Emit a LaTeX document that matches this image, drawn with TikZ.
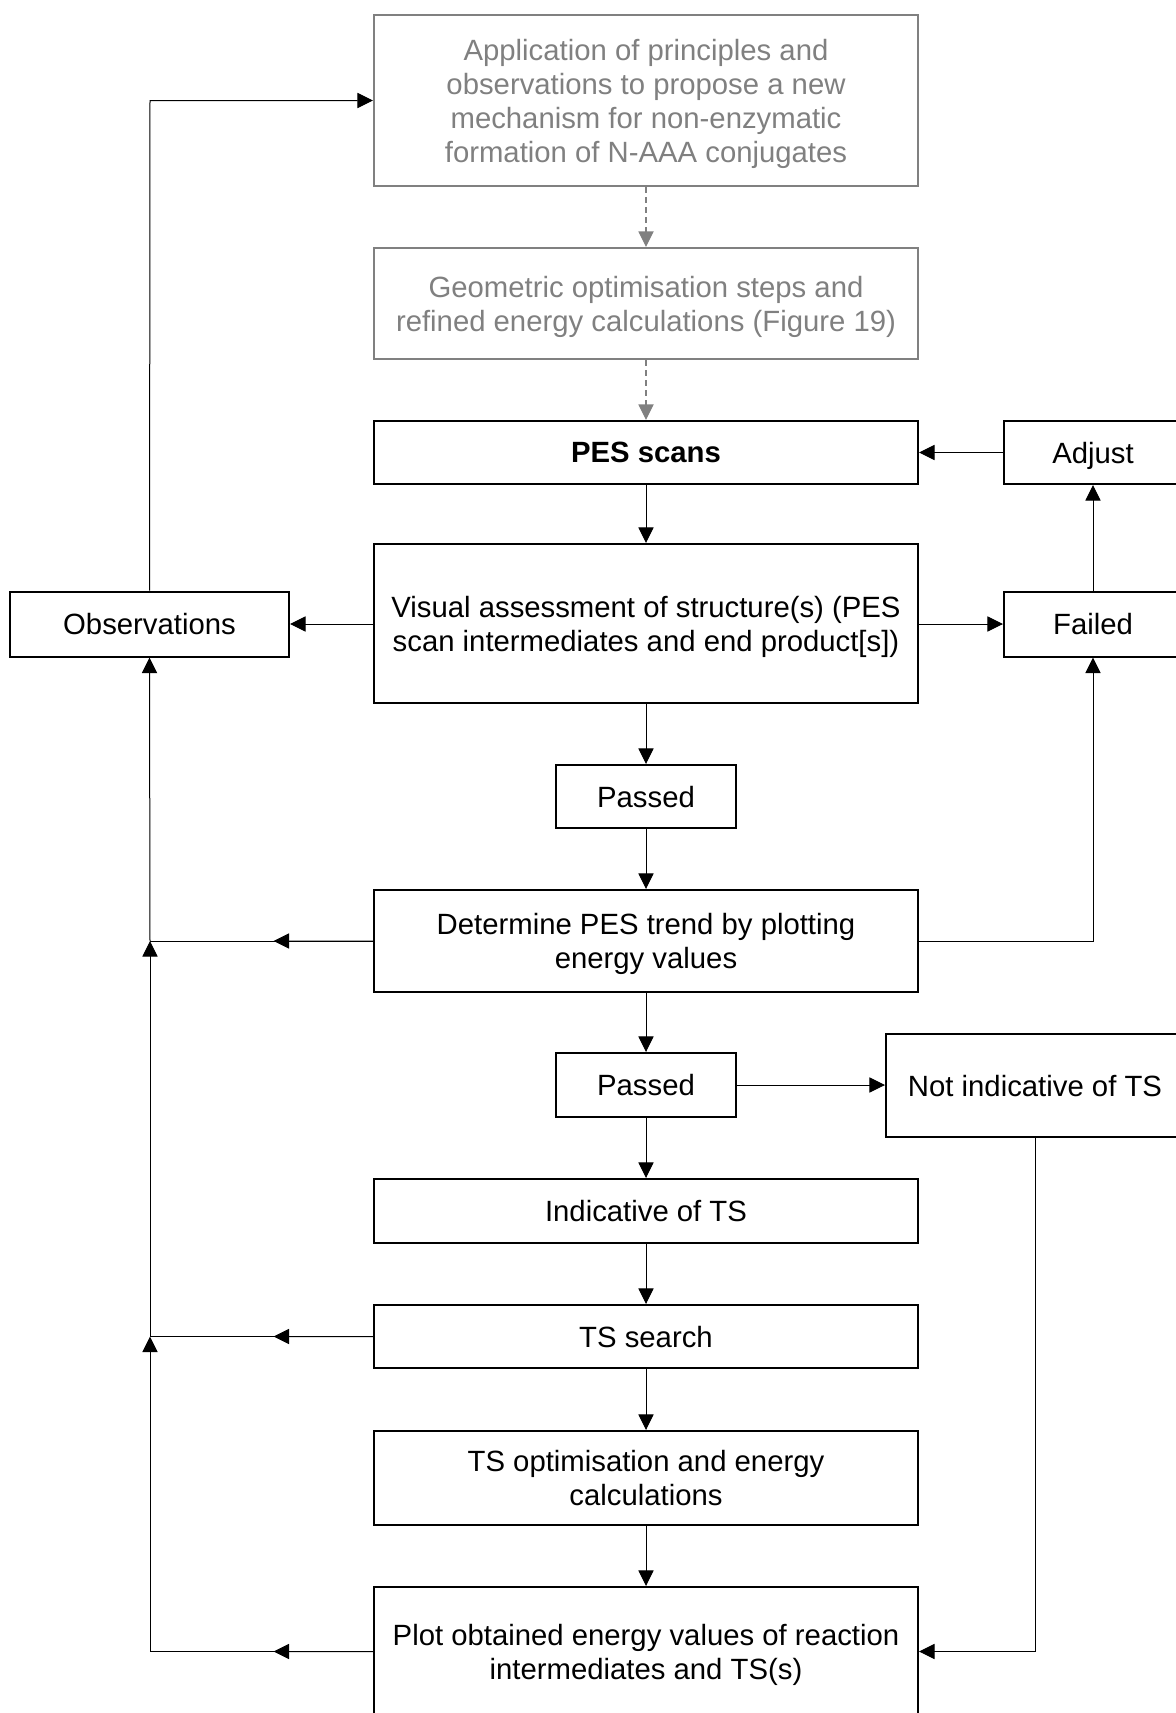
\documentclass[tikz,border=0pt]{standalone}
\usepackage{fontspec}
\setmainfont{Liberation Sans}
\usetikzlibrary{arrows.meta,calc}
\definecolor{fgray}{RGB}{128,128,128}
\begin{document}
\begin{tikzpicture}[x=0.5pt,y=-0.5pt,
  box/.style={draw, line width=1pt, inner sep=0pt, align=center, text depth=0pt, font=\fontsize{14.65}{17}\selectfont},
  gbox/.style={box, draw=fgray, text=fgray},
  mainbox/.style={box, minimum width=272pt},
  conn/.style={line width=0.5pt},
  arr/.style={conn, -{Triangle[length=7.8pt,width=7.6pt]}},
  garr/.style={line width=0.6pt, draw=fgray, dash pattern=on 3pt off 2pt, -{Triangle[length=7.8pt,width=7.6pt,fill=fgray]}}]
\useasboundingbox (0,0) rectangle (1176,1713);
\clip (0,0) rectangle (1176,1713);

\node[gbox, minimum width=272pt, minimum height=85.5pt] (top) at (646,100.5)
  {Application of principles and\\observations to propose a new\\mechanism for non-enzymatic\\formation of N-AAA conjugates};
\node[gbox, minimum width=272pt, minimum height=55.5pt] (geo) at (646,303.5)
  {Geometric optimisation steps and\\refined energy calculations (Figure 19)};
\node[mainbox, minimum height=31.5pt] (pes) at (646,452.5) {\textbf{PES scans}};
\node[box, minimum width=89pt, minimum height=31.5pt] (adj) at (1093,452.5) {Adjust};
\node[box, minimum width=139.5pt, minimum height=32.5pt] (obs) at (149.5,624) {Observations};
\node[mainbox, minimum height=79.5pt] (vis) at (646,623.5)
  {Visual assessment of structure(s) (PES\\scan intermediates and end product[s])};
\node[box, minimum width=89pt, minimum height=32.5pt] (fail) at (1093,624) {Failed};
\node[box, minimum width=90pt, minimum height=31.5pt] (p1) at (646,796.5) {Passed};
\node[mainbox, minimum height=51pt] (det) at (646,941)
  {Determine PES trend by plotting\\energy values};
\node[box, minimum width=90pt, minimum height=32pt] (p2) at (646,1085) {Passed};
\node[box, minimum width=149pt, minimum height=51.5pt] (ni) at (1035,1085.5) {Not indicative of TS};
\node[mainbox, minimum height=32pt] (ind) at (646,1211) {Indicative of TS};
\node[mainbox, minimum height=31.5pt] (tss) at (646,1336.5) {TS search};
\node[mainbox, minimum height=47pt] (opt) at (646,1478)
  {TS optimisation and energy\\calculations};
\node[mainbox, minimum height=64.5pt] (plot) at (646,1651.5)
  {Plot obtained energy values of reaction\\intermediates and TS(s)};

\coordinate (jtop) at (150,100.5);
\coordinate (j1) at (150,941);
\coordinate (j2) at (150,1336.5);
\coordinate (j3) at (150,1651.5);
\coordinate (jr) at (1093,941);
\coordinate (jn) at (1035,1651.5);

% main chain
\draw[garr] (top) -- (geo);
\draw[garr] (geo) -- (pes);
\draw[arr] (pes) -- (vis);
\draw[arr] (vis) -- (p1);
\draw[arr] (p1) -- (det);
\draw[arr] (det) -- (p2);
\draw[arr] (p2) -- (ind);
\draw[arr] (ind) -- (tss);
\draw[arr] (tss) -- (opt);
\draw[arr] (opt) -- (plot);

% side connectors
\draw[arr] (obs.east -| vis.west) -- (obs.east);
\draw[arr] (fail.west -| vis.east) -- (fail.west);
\draw[arr] (fail) -- (adj);
\draw[arr] (adj) -- (pes);
\draw[arr] (obs) -- (jtop) -- (top.west);
\draw[arr] (det.east) -- (jr) -- (fail.south);
\draw[arr] (p2.east) -- (p2.east -| ni.west);
\draw[arr] (ni.south) -- (jn) -- (plot.east);

% left feedback lines
\draw[conn] (det.west) -- (j1);
\draw[arr] (det.west) -- ($(det.west)!0.446!(j1)$);
\draw[arr] (j1) -- (obs.south);
\draw[conn] (tss.west) -- (j2);
\draw[arr] (tss.west) -- ($(tss.west)!0.446!(j2)$);
\draw[arr] (j2) -- (j1);
\draw[conn] (plot.west) -- (j3);
\draw[arr] (plot.west) -- ($(plot.west)!0.446!(j3)$);
\draw[arr] (j3) -- (j2);
\end{tikzpicture}
\end{document}
